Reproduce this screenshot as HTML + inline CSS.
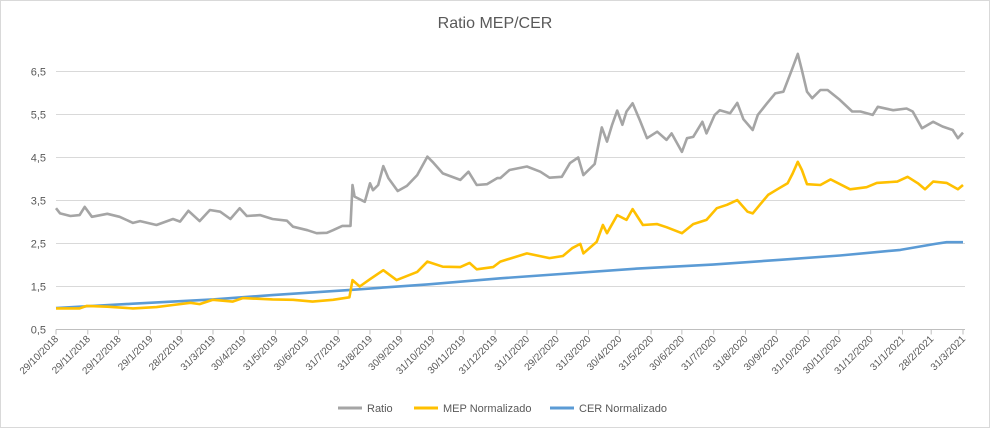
<!DOCTYPE html>
<html><head><meta charset="utf-8"><style>
body{margin:0;background:#fff;}
svg{display:block;font-family:"Liberation Sans",sans-serif;}
</style></head><body>
<svg id="chart" width="990" height="428">
<rect x="0.5" y="0.5" width="989" height="427" fill="#fff" stroke="#d9d9d9"/>
<text x="495" y="28" text-anchor="middle" font-size="16" fill="#595959">Ratio MEP/CER</text>
<g id="grid"></g><g id="xaxis"></g><g id="series"></g>
<g font-size="11" fill="#595959">
<g><line x1="338" y1="408" x2="362" y2="408" stroke="#A5A5A5" stroke-width="3"/><text x="367" y="412">Ratio</text></g>
<g><line x1="414" y1="408" x2="438" y2="408" stroke="#FFC000" stroke-width="3"/><text x="443" y="412">MEP Normalizado</text></g>
<g><line x1="550" y1="408" x2="574" y2="408" stroke="#5B9BD5" stroke-width="3"/><text x="579" y="412">CER Normalizado</text></g>
</g>
</svg>
<script>
const yTicks=[0.5,1.5,2.5,3.5,4.5,5.5,6.5];
const xTickLabels=["29/10/2018","29/11/2018","29/12/2018","29/1/2019","28/2/2019","31/3/2019","30/4/2019","31/5/2019","30/6/2019","31/7/2019","31/8/2019","30/9/2019","31/10/2019","30/11/2019","31/12/2019","31/1/2020","29/2/2020","31/3/2020","30/4/2020","31/5/2020","30/6/2020","31/7/2020","31/8/2020","30/9/2020","31/10/2020","30/11/2020","31/12/2020","31/1/2021","28/2/2021","31/3/2021"];
const ratioDays=[0,4,14,23,28,35,50,62,75,82,98,114,121,129,140,150,160,170,179,186,199,211,225,231,245,254,264,270,279,287,289,291,301,306,309,314,319,324,333,342,352,362,367,377,394,402,410,420,430,433,442,459,472,481,493,501,509,514,525,532,537,542,547,552,556,562,569,576,586,595,600,610,615,621,630,634,642,647,657,664,670,679,684,693,701,709,717,723,727,732,737,745,752,764,776,784,796,801,816,829,835,844,855,864,874,879,884];
const ratioVals=[3.32,3.20,3.14,3.16,3.35,3.12,3.19,3.12,2.98,3.02,2.93,3.07,3.01,3.26,3.02,3.28,3.24,3.07,3.32,3.14,3.16,3.07,3.03,2.89,2.81,2.74,2.75,2.81,2.91,2.91,3.86,3.59,3.47,3.90,3.74,3.86,4.30,4.02,3.72,3.84,4.09,4.52,4.40,4.13,3.98,4.17,3.86,3.88,4.02,4.02,4.21,4.29,4.17,4.03,4.05,4.37,4.50,4.09,4.35,5.20,4.87,5.26,5.59,5.26,5.57,5.76,5.37,4.95,5.10,4.91,5.06,4.63,4.95,4.98,5.33,5.06,5.49,5.60,5.53,5.77,5.39,5.14,5.49,5.76,5.99,6.03,6.53,6.91,6.53,6.03,5.88,6.07,6.07,5.84,5.57,5.57,5.49,5.68,5.60,5.64,5.57,5.18,5.33,5.22,5.14,4.95,5.08];
const mepDays=[0,23,30,50,75,98,114,131,140,153,172,182,211,231,250,270,286,289,296,306,319,332,352,362,377,394,403,410,426,433,459,481,494,503,511,514,527,533,537,547,556,562,572,586,595,610,621,634,644,654,664,674,679,686,694,703,713,718,723,727,732,745,755,774,790,800,820,830,840,847,855,868,879,884];
const mepVals=[0.99,0.99,1.05,1.03,0.99,1.02,1.07,1.12,1.09,1.19,1.15,1.23,1.20,1.19,1.15,1.19,1.25,1.65,1.50,1.67,1.88,1.65,1.84,2.08,1.96,1.95,2.05,1.90,1.95,2.08,2.27,2.16,2.21,2.39,2.49,2.27,2.54,2.93,2.74,3.16,3.05,3.30,2.93,2.95,2.88,2.74,2.95,3.05,3.32,3.40,3.51,3.24,3.20,3.40,3.63,3.76,3.90,4.13,4.40,4.21,3.88,3.86,3.99,3.76,3.81,3.91,3.94,4.05,3.90,3.76,3.94,3.91,3.76,3.86];
const cerDays=[0,75,153,211,287,362,433,569,640,706,764,823,857,868,884];
const cerVals=[1.0,1.1,1.20,1.30,1.42,1.55,1.69,1.92,2.01,2.12,2.22,2.35,2.49,2.53,2.53];

const NS="http://www.w3.org/2000/svg";
const X0=56,X1=963,DMAX=884,Y0=329.5,PXU=43;
const xs=d=>X0+(d/DMAX)*(X1-X0);
const ys=v=>Y0-(v-0.5)*PXU;
const start=Date.UTC(2018,9,29);
function dayOf(lbl){const p=lbl.split('/').map(Number);return Math.round((Date.UTC(p[2],p[1]-1,p[0])-start)/864e5);}
function mk(t,a,parent){const e=document.createElementNS(NS,t);for(const k in a)e.setAttribute(k,a[k]);parent.appendChild(e);return e;}
const grid=document.getElementById('grid');
yTicks.forEach(v=>{
 const l=mk('line',{x1:X0,x2:X1+2,y1:ys(v),y2:ys(v),stroke:v===0.5?'#bfbfbf':'#d9d9d9','stroke-width':1},grid);
 
 
 const t=mk('text',{x:46,y:ys(v)+4,'text-anchor':'end','font-size':11,fill:'#595959'},grid);
 t.textContent=String(v).replace('.',',');
 
 
});
const xa=document.getElementById('xaxis');
xTickLabels.forEach(lb=>{
 const x=xs(Math.min(dayOf(lb),DMAX));
 const tk=mk('line',{x1:x,x2:x,y1:Y0,y2:Y0+5,stroke:'#bfbfbf'},xa);
 
 
 const t=mk('text',{x:x+3,y:Y0+10,'text-anchor':'end','font-size':10,fill:'#595959',transform:`rotate(-45 ${x+3} ${Y0+10})`},xa);
 t.textContent=lb;
 
 
});
const sg=document.getElementById('series');
function line(days,vals,color,name){
 const pts=days.map((d,i)=>xs(d).toFixed(1)+','+ys(vals[i]).toFixed(1)).join(' ');
 const p=mk('polyline',{points:pts,fill:'none',stroke:color,'stroke-width':2.6,'stroke-linejoin':'round'},sg);
 
 
}
line(cerDays,cerVals,'#5B9BD5','cer-normalizado-line');
line(mepDays,mepVals,'#FFC000','mep-normalizado-line');
line(ratioDays,ratioVals,'#A5A5A5','ratio-line');
</script>
</body></html>
